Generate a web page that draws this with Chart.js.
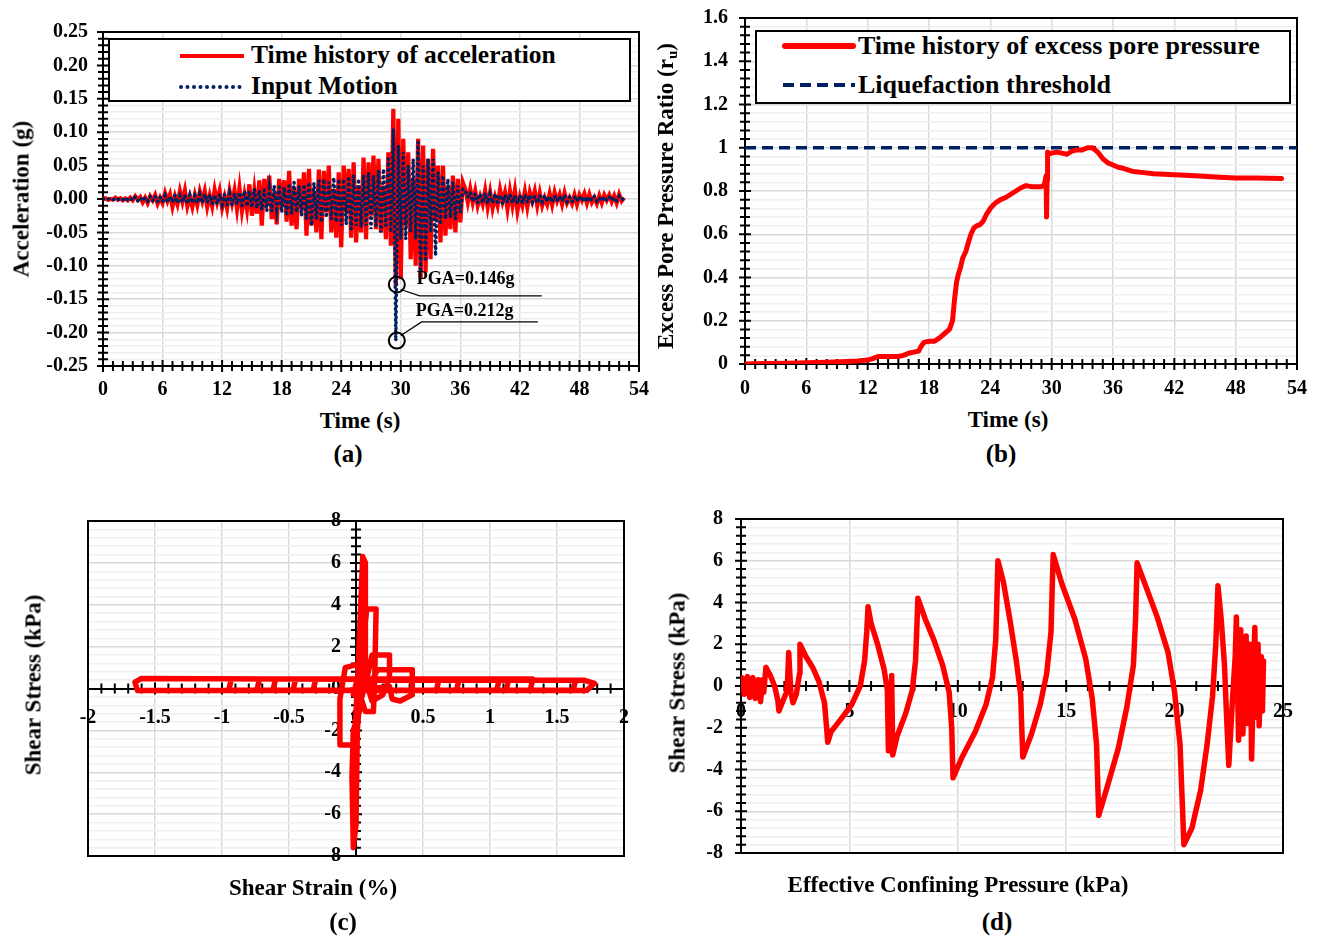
<!DOCTYPE html>
<html>
<head>
<meta charset="utf-8">
<script src="https://cdn.jsdelivr.net/npm/chart.js@4.4.1/dist/chart.umd.min.js"></script>
<style>
  body { margin: 0; background: #fff; }
  #page { position: relative; width: 1319px; height: 937px; overflow: hidden; background: #fff;
          font-family: "Liberation Serif", "Times New Roman", serif; font-weight: bold; color: #000; }
  canvas { position: absolute; }
  .title { position: absolute; font-size: 23px; white-space: nowrap; line-height: 1; transform: translate(-50%, -50%); }
  .vtitle { position: absolute; font-size: 23px; white-space: nowrap; line-height: 1; transform: translate(-50%, -50%) rotate(-90deg); }
  .panel { position: absolute; font-size: 25px; line-height: 1; transform: translate(-50%, -50%); }
  .legend { position: absolute; border: 2px solid #000; background: #fff; box-sizing: border-box; }
  .legend svg { position: absolute; }
  .legend span { position: absolute; line-height: 30px; white-space: nowrap; }
  sub { font-size: 15px; vertical-align: -4px; }
</style>
</head>
<body>
<div id="page">
  <canvas id="accChart" width="660" height="400" style="left:0;top:0"></canvas>
  <canvas id="ruChart" width="669" height="400" style="left:650px;top:0"></canvas>
  <canvas id="loopChart" width="660" height="410" style="left:0;top:480px"></canvas>
  <canvas id="pathChart" width="669" height="410" style="left:650px;top:480px"></canvas>

  <div class="legend" style="left:108px;top:38px;width:523px;height:64px">
    <svg style="left:68px;top:6px" width="70" height="20"><line x1="2" y1="10" x2="66" y2="10" stroke="#ff0000" stroke-width="4"/></svg>
    <span style="left:141px;top:0px;font-size:25.5px">Time history of acceleration</span>
    <svg style="left:68px;top:37px" width="70" height="20"><line x1="3" y1="10" x2="62" y2="10" stroke="#002060" stroke-width="4" stroke-linecap="round" stroke-dasharray="0 6.5"/></svg>
    <span style="left:141px;top:31px;font-size:25.5px">Input Motion</span>
  </div>

  <div class="legend" style="left:755px;top:30px;width:536px;height:74px">
    <svg style="left:24px;top:4px" width="76" height="20"><line x1="4" y1="10" x2="72" y2="10" stroke="#ff0000" stroke-width="6" stroke-linecap="round"/></svg>
    <span style="left:101px;top:-1px;font-size:26px">Time history of excess pore pressure</span>
    <svg style="left:24px;top:43px" width="76" height="20"><line x1="2" y1="10" x2="74" y2="10" stroke="#002060" stroke-width="4" stroke-dasharray="11 6"/></svg>
    <span style="left:101px;top:38px;font-size:26px">Liquefaction threshold</span>
  </div>

  <div class="vtitle" style="left:21px;top:199px">Acceleration (g)</div>
  <div class="title" style="left:360px;top:420px">Time (s)</div>
  <div class="panel" style="left:348px;top:453px">(a)</div>

  <div class="vtitle" style="left:667px;top:196px">Excess Pore Pressure Ratio (r<sub>u</sub>)</div>
  <div class="title" style="left:1008px;top:419px">Time (s)</div>
  <div class="panel" style="left:1001px;top:453px">(b)</div>

  <div class="vtitle" style="left:33px;top:685px">Shear Stress (kPa)</div>
  <div class="title" style="left:313px;top:887px">Shear Strain (%)</div>
  <div class="panel" style="left:343px;top:921px">(c)</div>

  <div class="vtitle" style="left:677px;top:683px">Shear Stress (kPa)</div>
  <div class="title" style="left:958px;top:884px">Effective Confining Pressure (kPa)</div>
  <div class="panel" style="left:997px;top:921px">(d)</div>
</div>

<script>
// ---- data ----
const accStep = 0.25; // s between samples

// (a) computed acceleration, g (one row per second)
const accResponse = [
  0, 0.001, -0.001, 0.0,
  -0.001, 0.002, -0.001, 0.001,
  -0.002, 0.001, -0.002, 0.002,
  -0.002, 0.004, -0.001, 0.003,
  -0.005, 0.002, -0.006, 0.004,
  -0.002, 0.006, -0.007, 0.002,
  -0.006, 0.009, -0.003, 0.007,
  -0.012, 0.004, -0.008, 0.012,
  -0.004, 0.013, -0.011, 0.003,
  -0.012, 0.006, -0.009, 0.011,
  -0.003, 0.012, -0.012, 0.005,
  -0.011, 0.014, -0.004, 0.012,
  -0.013, 0.003, -0.014, 0.012,
  -0.006, 0.013, -0.015, 0.016,
  -0.018, 0.006, -0.016, 0.022,
  -0.025, 0.012, -0.022, 0.028,
  -0.04, 0.03, -0.01, 0.035,
  -0.03, 0.01, -0.038, 0.03,
  -0.012, 0.028, -0.034, 0.042,
  -0.04, 0.015, -0.045, 0.03,
  -0.015, 0.04, -0.055, 0.045,
  -0.04, 0.012, -0.05, 0.044,
  -0.06, 0.042, -0.02, 0.05,
  -0.05, 0.015, -0.058, 0.04,
  -0.072, 0.05, -0.02, 0.045,
  -0.058, 0.055, -0.065, 0.02,
  -0.05, 0.062, -0.06, 0.055,
  -0.025, 0.065, -0.045, 0.06,
  -0.05, 0.02, -0.06, 0.07,
  -0.07, 0.135, -0.13, 0.12,
  -0.12, 0.09, -0.04, 0.07,
  -0.09, 0.03, -0.1, 0.09,
  -0.12, 0.08, -0.11, 0.06,
  -0.09, 0.075, -0.03, 0.05,
  -0.065, 0.05, -0.055, 0.02,
  -0.045, 0.035, -0.05, 0.03,
  -0.035, 0.025, 0.015, -0.005,
  0.015, -0.005, 0.012, -0.01,
  0.004, -0.008, 0.013, -0.012,
  0.01, -0.014, 0.003, -0.01,
  0.014, -0.004, 0.01, -0.015,
  0.012, -0.01, 0.013, -0.018,
  0.003, -0.01, 0.011, -0.012,
  0.01, -0.003, 0.012, -0.01,
  0.009, -0.01, 0.002, -0.008,
  0.008, -0.009, 0.01, -0.003,
  0.007, -0.008, 0.009, -0.006,
  0.002, -0.007, 0.006, -0.008,
  0.006, -0.002, 0.008, -0.006,
  0.007, -0.005, 0.002, -0.007,
  0.005, -0.006, 0.006, -0.002,
  0.006, -0.004, 0.005, -0.006,
  0.007, -0.003, 0.002
];

// (a) input motion, g
const accInput = [
  0, 0.0005, -0.0005, 0.001,
  -0.001, 0.001, -0.001, 0.001,
  -0.001, 0.002, -0.002, 0.001,
  -0.002, 0.003, -0.003, 0.002,
  -0.003, 0.002, -0.003, 0.004,
  -0.003, 0.004, -0.004, 0.003,
  -0.004, 0.005, -0.005, 0.004,
  -0.005, 0.006, -0.006, 0.005,
  -0.005, 0.006, -0.007, 0.006,
  -0.006, 0.005, -0.006, 0.007,
  -0.006, 0.007, -0.005, 0.006,
  -0.007, 0.006, -0.008, 0.007,
  -0.008, 0.007, -0.009, 0.008,
  -0.009, 0.008, -0.008, 0.01,
  -0.01, 0.012, -0.011, 0.012,
  -0.013, 0.015, -0.014, 0.013,
  -0.016, 0.014, -0.018, 0.016,
  -0.018, 0.02, -0.015, 0.018,
  -0.02, 0.018, -0.025, 0.02,
  -0.022, 0.025, -0.02, 0.02,
  -0.025, 0.022, -0.03, 0.025,
  -0.04, 0.024, -0.03, 0.028,
  -0.035, 0.03, -0.028, 0.026,
  -0.03, 0.032, -0.035, 0.03,
  -0.04, 0.03, -0.038, 0.034,
  -0.045, 0.035, -0.04, 0.03,
  -0.042, 0.036, -0.04, 0.04,
  -0.045, 0.035, -0.04, 0.042,
  -0.05, 0.045, -0.04, 0.06,
  -0.05, 0.105, -0.212, 0.08,
  -0.06, 0.07, -0.06, 0.05,
  -0.05, 0.06, -0.06, 0.085,
  -0.11, 0.05, -0.09, 0.06,
  -0.05, 0.06, -0.085, 0.04,
  -0.035, 0.035, -0.03, 0.03,
  -0.028, 0.025, -0.03, 0.02,
  -0.02, 0.015, 0.012, 0.003,
  0.01, -0.004, 0.008, -0.006,
  0.008, -0.006, 0.009, -0.007,
  0.007, -0.006, 0.008, -0.005,
  0.006, -0.007, 0.006, -0.005,
  0.007, -0.006, 0.005, -0.007,
  0.005, -0.006, 0.006, -0.005,
  0.006, -0.005, 0.004, -0.006,
  0.005, -0.004, 0.005, -0.004,
  0.004, -0.005, 0.004, -0.003,
  0.004, -0.003, 0.005, -0.004,
  0.003, -0.004, 0.003, -0.003,
  0.004, -0.003, 0.003, -0.004,
  0.003, -0.002, 0.004, -0.003,
  0.002, -0.003, 0.003, -0.002,
  0.003, -0.002, 0.002, -0.003,
  0.004, -0.001, 0.001
];

// (b) excess pore pressure ratio
const ruTime = [0, 2, 4, 6, 8, 10, 11, 12, 12.5, 13, 14, 15, 15.5, 16, 16.5, 17, 17.2, 17.5, 18, 18.5,
  19, 19.5, 20, 20.3, 20.5, 20.7, 20.9, 21.1, 21.3, 21.6, 21.9, 22.1, 22.4, 22.7, 23.0, 23.3, 23.6, 24, 24.5, 25,
  25.5, 26, 26.5, 27, 27.5, 28, 28.5, 29, 29.3, 29.45, 29.5, 29.55, 29.6, 29.7, 30, 30.5, 31, 31.5, 32, 32.5,
  33, 33.5, 34, 34.5, 35, 35.5, 36, 36.5, 37, 38, 39, 40, 42, 44, 46, 48, 50, 52.5];
const ruValue = [0, 0.002, 0.004, 0.006, 0.008, 0.012, 0.014, 0.018, 0.025, 0.035, 0.035, 0.035, 0.04, 0.05, 0.055, 0.06, 0.08, 0.1, 0.105, 0.105,
  0.12, 0.14, 0.16, 0.2, 0.3, 0.38, 0.42, 0.45, 0.49, 0.52, 0.57, 0.6, 0.63, 0.64, 0.645, 0.66, 0.69, 0.72, 0.745, 0.76,
  0.77, 0.785, 0.8, 0.815, 0.825, 0.82, 0.82, 0.82, 0.83, 0.87, 0.68, 0.85, 0.98, 0.97, 0.975, 0.98, 0.975, 0.97, 0.985, 0.99,
  0.99, 1.0, 1.0, 0.98, 0.95, 0.93, 0.92, 0.91, 0.905, 0.89, 0.885, 0.88, 0.875, 0.87, 0.865, 0.86, 0.86, 0.858];
const thresholdTime = [0, 54];
const thresholdValue = [1, 1];

// (c) shear strain (%) vs shear stress (kPa)
const stressStrain = [
  [0, 0], [0.02, 0.5], [-0.02, -0.3], [0.04, 1.2], [-0.08, 1.0], [-0.12, -0.5], [-0.12, -2.7], [-0.02, -2.7],
  [0.0, -1.2], [0.02, 1.6], [0.05, 6.3], [0.07, 6.0], [0.07, 1.0], [0.03, -1.0], [-0.02, -2.0], [-0.03, -4.2],
  [-0.02, -7.6], [0.0, -6.5], [0.01, -2.0], [0.04, 0.5], [0.06, 2.5], [0.08, 3.8], [0.15, 3.8], [0.14, 0.5],
  [0.13, -1.1], [0.07, -1.1], [0.04, -0.5], [0.1, 1.0], [0.12, 1.6], [0.25, 1.6], [0.25, 0.5], [0.2, -0.3],
  [0.12, -0.6], [0.09, 0.0], [0.16, 0.9], [0.42, 0.9], [0.42, -0.3], [0.33, -0.6], [0.27, -0.5], [0.25, 0.1],
  [0.0, -0.08], [0.6, -0.08], [0.62, 0.45], [-0.3, 0.45], [-0.32, -0.08], [0.75, -0.08], [0.77, 0.45], [-0.45, 0.45],
  [-0.47, -0.08], [1.05, -0.08], [1.07, 0.45], [-0.6, 0.45], [-0.62, -0.08], [1.12, -0.08], [1.14, 0.45], [-0.72, 0.45],
  [-0.74, -0.08], [1.3, -0.08], [1.32, 0.45], [-0.93, 0.45], [-0.95, -0.08], [1.62, -0.08], [1.64, 0.4], [-1.6, 0.48],
  [-1.65, 0.3], [-1.63, -0.1], [1.72, -0.1], [1.78, 0.25], [1.7, 0.4], [0.1, 0.4]
];

// (d) effective confining pressure (kPa) vs shear stress (kPa)
const stressPath = [
  [0, 0], [0.05, 0.4], [0.15, -0.4], [0.3, 0.45], [0.4, -0.55], [0.55, 0.4], [0.65, -0.6], [0.8, 0.3],
  [0.9, -0.75], [1.0, 0.3], [1.05, -0.3], [1.15, 0.9], [1.35, 0.5], [1.55, 0.0], [1.7, -0.7], [1.75, -1.2],
  [1.9, -0.8], [2.1, -0.3], [2.15, 0.3], [2.2, 1.6], [2.3, -0.3], [2.4, -0.8], [2.55, -0.4], [2.7, 0.6],
  [2.72, 2.0], [3.0, 1.4], [3.3, 0.9], [3.6, 0.2], [3.85, -0.8], [3.95, -2.0], [4.0, -2.7], [4.15, -2.2],
  [4.6, -1.6], [5.1, -0.9], [5.5, 0.0], [5.7, 1.2], [5.8, 2.6], [5.86, 3.8], [6.0, 3.0], [6.3, 2.0],
  [6.6, 0.8], [6.75, -0.2], [6.8, -3.1], [6.9, -3.1], [6.95, 0.5], [7.0, -3.3], [7.2, -2.4], [7.6, -1.3],
  [7.9, -0.2], [8.05, 1.2], [8.1, 2.5], [8.16, 4.2], [8.5, 3.2], [8.9, 2.2], [9.3, 1.0], [9.6, -0.3],
  [9.72, -2.0], [9.78, -4.4], [10.2, -3.4], [10.8, -2.2], [11.3, -0.9], [11.6, 0.4], [11.75, 2.2], [11.8, 4.0],
  [11.85, 6.0], [12.1, 5.0], [12.4, 3.2], [12.7, 1.2], [12.9, -0.4], [12.95, -2.0], [13.0, -3.4], [13.4, -2.3],
  [13.8, -0.9], [14.1, 0.6], [14.3, 2.6], [14.35, 4.5], [14.4, 6.3], [14.8, 4.9], [15.4, 3.2], [15.9, 1.3],
  [16.2, -0.6], [16.4, -2.8], [16.5, -6.2], [16.9, -4.8], [17.4, -3.0], [17.8, -1.0], [18.1, 1.0], [18.2, 3.2],
  [18.27, 5.9], [18.7, 4.7], [19.2, 3.3], [19.7, 1.6], [20.0, -0.3], [20.25, -2.8], [20.43, -7.6], [20.8, -6.8],
  [21.2, -5.0], [21.5, -2.8], [21.75, -0.5], [21.9, 2.0], [22.0, 4.8], [22.15, 3.2], [22.3, 1.0], [22.4, -1.5],
  [22.5, -3.8], [22.65, -1.0], [22.8, 1.5], [22.85, 3.3], [22.95, -2.6], [23.05, 2.7], [23.15, -2.3], [23.3, 2.4],
  [23.35, -1.8], [23.5, 2.0], [23.55, -3.5], [23.7, 2.8], [23.75, -1.5], [23.85, 2.0], [23.9, -1.9], [24.0, 1.4],
  [24.05, -1.2], [24.1, 1.2]
];

// ---- helpers ----
const tickFont = { family: 'Liberation Serif', size: 20, weight: 'bold' };

function isMajor(v, major) {
  const r = v / major;
  return Math.abs(r - Math.round(r)) < 1e-6;
}

// fixed scale size; label overhang must not push the plot area around
function fixSize(w, h) {
  return (s) => {
    if (w != null) s.width = w;
    if (h != null) s.height = h;
    s.paddingTop = 0;
    s.paddingBottom = 0;
    s.paddingLeft = 0;
    s.paddingRight = 0;
  };
}

function axis(min, max, minor, major, fmt, minorGridColor, pad, extra) {
  return Object.assign({
    type: 'linear',
    min: min,
    max: max,
    bounds: 'data',
    ticks: {
      stepSize: minor,
      autoSkip: false,
      maxRotation: 0,
      padding: pad,
      color: '#000',
      font: tickFont,
      callback: (v) => isMajor(v, major) ? fmt(v) : ''
    },
    grid: {
      drawTicks: false,
      lineWidth: 1.5,
      color: (c) => isMajor(c.tick.value, major) ? '#d9d9d9' : minorGridColor
    },
    border: { color: '#000', width: 2 }
  }, extra);
}

const trim = (v) => String(Math.round(v * 10) / 10);
const whole = (v) => String(Math.round(v));
const noGrid = 'rgba(0,0,0,0)';
const faintGrid = '#efefef';

// frame and crossing tick marks
const excelAxes = {
  id: 'excelAxes',
  beforeDatasetsDraw(chart, args, opts) {
    const { ctx, chartArea: a, scales: { x, y } } = chart;
    ctx.save();
    ctx.strokeStyle = '#000';
    ctx.lineWidth = 2;
    ctx.strokeRect(a.left, a.top, a.right - a.left, a.bottom - a.top);
    const xLine = opts.xAxisAt == null ? a.bottom : y.getPixelForValue(opts.xAxisAt);
    const yLine = opts.yAxisAt == null ? a.left : x.getPixelForValue(opts.yAxisAt);
    ctx.beginPath();
    x.ticks.forEach((t) => {
      const px = x.getPixelForValue(t.value);
      const len = t.label ? 6 : 5;
      ctx.moveTo(px, xLine - len);
      ctx.lineTo(px, xLine + len);
    });
    y.ticks.forEach((t) => {
      const py = y.getPixelForValue(t.value);
      const len = t.label ? 6 : 5;
      ctx.moveTo(yLine - len, py);
      ctx.lineTo(yLine + len, py);
    });
    ctx.stroke();
    ctx.restore();
  }
};

// PGA call-outs on panel (a)
const pgaNotes = {
  id: 'pgaNotes',
  afterDatasetsDraw(chart, args, opts) {
    const { ctx, scales: { x, y } } = chart;
    ctx.save();
    ctx.strokeStyle = '#000';
    ctx.fillStyle = '#000';
    ctx.font = 'bold 18px "Liberation Serif"';
    ctx.textBaseline = 'middle';
    (opts.notes || []).forEach((n) => {
      const cx = x.getPixelForValue(n.at[0]);
      const cy = y.getPixelForValue(n.at[1]);
      ctx.lineWidth = 2;
      ctx.beginPath();
      ctx.arc(cx, cy, 8, 0, Math.PI * 2);
      ctx.stroke();
      ctx.lineWidth = 1.2;
      const x1 = x.getPixelForValue(n.line[0]);
      const x2 = x.getPixelForValue(n.line[1]);
      const ly = y.getPixelForValue(n.line[2]);
      ctx.beginPath();
      ctx.moveTo(cx + 4, cy + (ly > cy ? 5 : -5));
      ctx.lineTo(x1, ly);
      ctx.lineTo(x2, ly);
      ctx.stroke();
      ctx.fillText(n.text, x.getPixelForValue(n.textAt[0]), y.getPixelForValue(n.textAt[1]));
    });
    ctx.restore();
  }
};

const baseOptions = { responsive: false, animation: false, events: [] };
const noLegend = { legend: { display: false }, tooltip: { enabled: false } };

// ---- (a) acceleration ----
new Chart(document.getElementById('accChart'), {
  type: 'scatter',
  data: {
    datasets: [
      {
        label: 'Time history of acceleration',
        data: accResponse.map((v, i) => ({ x: i * accStep, y: v })),
        showLine: true,
        borderColor: '#ff0000',
        borderWidth: 4.2,
        pointRadius: 0,
        order: 1
      },
      {
        label: 'Input Motion',
        data: accInput.map((v, i) => ({ x: i * accStep, y: v })),
        showLine: true,
        borderColor: '#002060',
        borderWidth: 3.5,
        borderDash: [0.5, 5],
        borderCapStyle: 'round',
        pointRadius: 0,
        order: 0
      }
    ]
  },
  options: Object.assign({}, baseOptions, {
    layout: { padding: { left: 0, top: 32, right: 21, bottom: 0 } },
    scales: {
      x: axis(0, 54, 1, 6, whole, noGrid, 12, { afterFit: fixSize(null, 34) }),
      y: axis(-0.25, 0.25, 0.01, 0.05, (v) => v.toFixed(2), faintGrid, 15, { afterFit: fixSize(103, null) })
    },
    plugins: Object.assign({}, noLegend, {
      excelAxes: {},
      pgaNotes: {
        notes: [
          { at: [29.6, -0.128], line: [31.9, 44.2, -0.145], text: 'PGA=0.146g', textAt: [31.6, -0.12] },
          { at: [29.6, -0.212], line: [32.1, 43.8, -0.184], text: 'PGA=0.212g', textAt: [31.5, -0.168] }
        ]
      }
    })
  }),
  plugins: [excelAxes, pgaNotes]
});

// ---- (b) excess pore pressure ratio ----
new Chart(document.getElementById('ruChart'), {
  type: 'scatter',
  data: {
    datasets: [
      {
        label: 'Time history of excess pore pressure',
        data: ruTime.map((t, i) => ({ x: t, y: ruValue[i] })),
        showLine: true,
        borderColor: '#ff0000',
        borderWidth: 5,
        borderJoinStyle: 'round',
        borderCapStyle: 'round',
        pointRadius: 0,
        order: 0
      },
      {
        label: 'Liquefaction threshold',
        data: thresholdTime.map((t, i) => ({ x: t, y: thresholdValue[i] })),
        showLine: true,
        borderColor: '#002060',
        borderWidth: 3.5,
        borderDash: [11, 6],
        pointRadius: 0,
        order: 1
      }
    ]
  },
  options: Object.assign({}, baseOptions, {
    layout: { padding: { left: 0, top: 18, right: 22, bottom: 0 } },
    scales: {
      x: axis(0, 54, 1, 6, whole, noGrid, 13, { afterFit: fixSize(null, 36) }),
      y: axis(0, 1.6, 0.04, 0.2, trim, faintGrid, 17, { afterFit: fixSize(95, null) })
    },
    plugins: Object.assign({}, noLegend, { excelAxes: {} })
  }),
  plugins: [excelAxes]
});

// ---- (c) stress-strain loops ----
new Chart(document.getElementById('loopChart'), {
  type: 'scatter',
  data: {
    datasets: [{
      label: 'Shear stress vs strain',
      data: stressStrain.map((p) => ({ x: p[0], y: p[1] })),
      showLine: true,
      borderColor: '#ff0000',
      borderWidth: 5.5,
      borderJoinStyle: 'round',
      borderCapStyle: 'round',
      pointRadius: 0
    }]
  },
  options: Object.assign({}, baseOptions, {
    layout: { padding: { left: 88, top: 41, right: 36, bottom: 34 } },
    scales: {
      x: axis(-2, 2, 0.1, 0.5, trim, noGrid, 17, {
        position: { y: 0 },
        afterFit: fixSize(null, 0)
      }),
      y: axis(-8, 8, 0.4, 2, (v) => whole(v) + '   ', faintGrid, 0, {
        position: { x: 0 },
        afterFit: fixSize(0, null)
      })
    },
    plugins: Object.assign({}, noLegend, { excelAxes: { xAxisAt: 0, yAxisAt: 0 } })
  }),
  plugins: [excelAxes]
});

// ---- (d) effective stress path ----
new Chart(document.getElementById('pathChart'), {
  type: 'scatter',
  data: {
    datasets: [{
      label: 'Shear stress vs effective confining pressure',
      data: stressPath.map((p) => ({ x: p[0], y: p[1] })),
      showLine: true,
      borderColor: '#ff0000',
      borderWidth: 5.5,
      borderJoinStyle: 'round',
      borderCapStyle: 'round',
      pointRadius: 0
    }]
  },
  options: Object.assign({}, baseOptions, {
    layout: { padding: { left: 0, top: 39, right: 36, bottom: 37 } },
    scales: {
      x: axis(0, 25, 1, 5, whole, noGrid, 14, {
        position: { y: 0 },
        afterFit: fixSize(null, 0)
      }),
      y: axis(-8, 8, 0.4, 2, whole, faintGrid, 18, { afterFit: fixSize(91, null) })
    },
    plugins: Object.assign({}, noLegend, { excelAxes: { xAxisAt: 0 } })
  }),
  plugins: [excelAxes]
});
</script>
</body>
</html>
